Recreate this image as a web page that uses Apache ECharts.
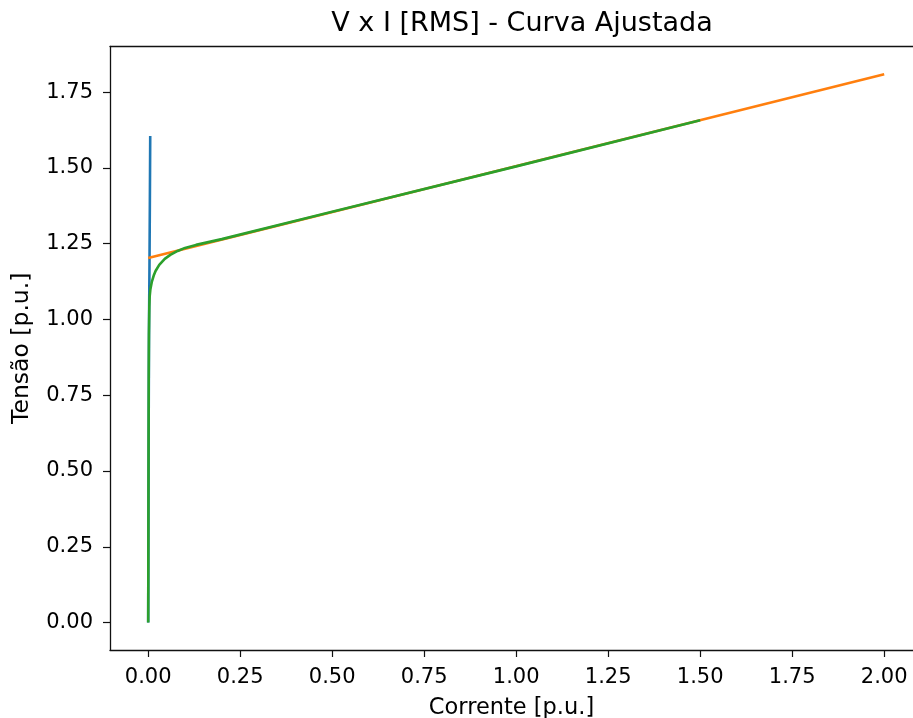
<!DOCTYPE html>
<html>
<head>
<meta charset="utf-8">
<script src="https://cdn.jsdelivr.net/npm/echarts@6/dist/echarts.min.js"></script>
<style>
html,body{margin:0;padding:0;background:#fff;}
#c{width:913px;height:718px;}
</style>
</head>
<body>
<div id="c"></div>
<script>
// Measured curve (blue)
const measuredI = [0, 0.0005, 0.001, 0.0015, 0.002, 0.0025, 0.003, 0.0035, 0.004, 0.0045, 0.005, 0.0055];
const measuredV = [0, 0.25, 0.5, 0.72, 0.9, 1.02, 1.1, 1.18, 1.28, 1.38, 1.49, 1.605];
// Linear saturation line (orange)
const lineI = [0, 2.0];
const lineV = [1.203, 1.809];
// Fitted curve (green)
const fitI = [0, 0.0005, 0.001, 0.0015, 0.002, 0.003, 0.004, 0.006, 0.01, 0.015, 0.02, 0.03, 0.045, 0.06, 0.08, 0.1, 0.13, 0.2, 0.5, 1.0, 1.5];
const fitV = [0, 0.3, 0.6, 0.82, 0.95, 1.04, 1.075, 1.1, 1.125, 1.145, 1.16, 1.18, 1.2, 1.213, 1.226, 1.236, 1.246, 1.265, 1.355, 1.505, 1.657];
// Tick labels
const xTicks = [0, 0.25, 0.5, 0.75, 1.0, 1.25, 1.5, 1.75, 2.0];
const yTicks = [0, 0.25, 0.5, 0.75, 1.0, 1.25, 1.5, 1.75];

const zip = (a, b) => a.map((v, i) => [v, b[i]]);
const font = 'DejaVu Sans';
const XMIN = -0.1038, XMAX = 2.0783, YMIN = -0.0905, YMAX = 1.9005;
const spine = {color: '#111', width: 1.3};
const chart = echarts.init(document.getElementById('c'), null, {renderer: 'canvas'});
chart.setOption({
  animation: false,
  backgroundColor: '#fff',
  title: {
    text: 'V x I [RMS] - Curva Ajustada',
    left: 517, top: 5, textAlign: 'center',
    textStyle: {fontFamily: font, fontSize: 27, fontWeight: 'normal', color: '#000'}
  },
  grid: {left: 110, top: 46.5, right: 0, height: 603.5, show: false, outerBoundsMode: 'none', containLabel: false},
  xAxis: [{
    type: 'value', min: XMIN, max: XMAX,
    name: 'Corrente [p.u.]', nameLocation: 'middle', nameGap: 47,
    nameTextStyle: {fontFamily: font, fontSize: 22.5, color: '#000'},
    splitLine: {show: false},
    axisLine: {show: true, onZero: false, lineStyle: spine},
    axisTick: {show: true, inside: false, length: 7, lineStyle: {color: '#111', width: 1.2}, customValues: xTicks},
    axisLabel: {fontFamily: font, fontSize: 21, color: '#000', margin: 17, customValues: xTicks, formatter: v => v.toFixed(2)}
  }, {
    type: 'value', min: XMIN, max: XMAX, position: 'top',
    splitLine: {show: false},
    axisLine: {show: true, onZero: false, lineStyle: spine},
    axisTick: {show: false}, axisLabel: {show: false}
  }],
  yAxis: {
    type: 'value', min: YMIN, max: YMAX,
    name: 'Tensão [p.u.]', nameLocation: 'middle', nameGap: 76, nameRotate: 90,
    nameTextStyle: {fontFamily: font, fontSize: 23.5, color: '#000'},
    splitLine: {show: false},
    axisLine: {show: true, onZero: false, lineStyle: spine},
    axisTick: {show: true, inside: false, length: 7, lineStyle: {color: '#111', width: 1.2}, customValues: yTicks},
    axisLabel: {fontFamily: font, fontSize: 21, color: '#000', margin: 17, customValues: yTicks, formatter: v => v.toFixed(2)}
  },
  series: [
    {type: 'line', data: zip(measuredI, measuredV), showSymbol: false, lineStyle: {color: '#1f77b4', width: 2.6}, z: 1},
    {type: 'line', data: zip(lineI, lineV), showSymbol: false, lineStyle: {color: '#ff7f0e', width: 2.6}, z: 2},
    {type: 'line', data: zip(fitI, fitV), showSymbol: false, lineStyle: {color: '#2ca02c', width: 2.6}, z: 3}
  ]
});
</script>
</body>
</html>
